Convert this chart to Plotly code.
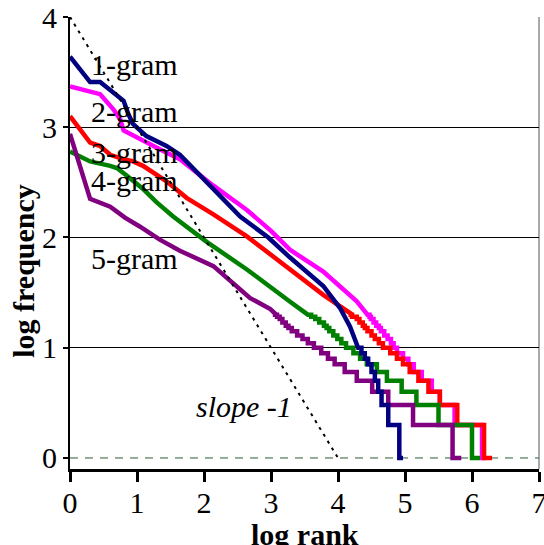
import plotly.graph_objects as go

# ---------------- data ----------------
UPPER_LEVELS = [1.30, 1.28, 1.26, 1.23, 1.20, 1.18, 1.15, 1.11, 1.08, 1.04]
LOWER_LEVELS = [1.00, 0.95, 0.90, 0.85, 0.78, 0.70, 0.60, 0.48, 0.30, 0.00]

# 1-gram
g1_head_x = [0, 0.30, 0.45, 0.67, 0.80, 0.87, 0.94, 1.14, 1.44, 1.64, 1.94, 2.24, 2.54, 2.96, 3.28, 3.78, 4.03, 4.18, 4.30]
g1_head_y = [3.64, 3.41, 3.41, 3.30, 3.24, 3.12, 3.03, 2.92, 2.83, 2.75, 2.56, 2.38, 2.19, 2.00, 1.82, 1.56, 1.36, 1.19, 1.00]
g1_upper_x = []
g1_lower_x = [4.35, 4.40, 4.45, 4.50, 4.55, 4.60, 4.65, 4.75, 4.915, 4.97]

# 2-gram
g2_head_x = [0, 0.45, 0.65, 0.75, 0.80, 1.04, 1.34, 1.64, 2.14, 2.64, 3.00, 3.28, 3.78, 4.28, 4.44]
g2_head_y = [3.37, 3.30, 3.16, 3.07, 2.97, 2.89, 2.80, 2.71, 2.47, 2.25, 2.06, 1.89, 1.69, 1.42, 1.31]
g2_upper_x = [4.47, 4.49, 4.53, 4.57, 4.61, 4.64, 4.69, 4.74, 4.79, 4.83]
g2_lower_x = [4.88, 4.97, 5.05, 5.13, 5.25, 5.40, 5.52, 5.74, 6.15, 6.20]

# 3-gram
g3_head_x = [0, 0.30, 0.45, 0.60, 0.75, 0.94, 1.09, 1.44, 1.74, 2.14, 2.64, 3.28, 3.78, 4.19]
g3_head_y = [3.10, 2.86, 2.83, 2.75, 2.72, 2.69, 2.65, 2.51, 2.36, 2.21, 2.01, 1.71, 1.48, 1.31]
g3_upper_x = [4.21, 4.28, 4.32, 4.37, 4.40, 4.44, 4.50, 4.55, 4.61, 4.67]
g3_lower_x = [4.78, 4.88, 4.97, 5.07, 5.20, 5.35, 5.52, 5.78, 6.18, 6.30]

# 4-gram
g4_head_x = [0, 0.30, 0.60, 0.70, 0.85, 1.09, 1.29, 1.54, 2.04, 2.64, 3.28, 3.55]
g4_head_y = [2.78, 2.69, 2.65, 2.63, 2.56, 2.44, 2.32, 2.19, 1.96, 1.71, 1.42, 1.31]
g4_upper_x = [3.60, 3.66, 3.72, 3.79, 3.83, 3.87, 3.93, 3.99, 4.05, 4.12]
g4_lower_x = [4.23, 4.33, 4.43, 4.58, 4.73, 4.95, 5.17, 5.50, 6.00, 6.12]

# 5-gram
g5_head_x = [0, 0.30, 0.60, 0.82, 1.04, 1.34, 1.64, 2.14, 2.69, 2.99, 3.06]
g5_head_y = [2.94, 2.35, 2.28, 2.18, 2.10, 1.98, 1.88, 1.74, 1.45, 1.35, 1.31]
g5_upper_x = [3.09, 3.13, 3.17, 3.22, 3.26, 3.31, 3.39, 3.47, 3.55, 3.64]
g5_lower_x = [3.75, 3.85, 3.95, 4.10, 4.28, 4.51, 4.75, 5.12, 5.71, 5.84]

slope_x = [0, 4]
slope_y = [4, 0]

x_ticks = [0, 1, 2, 3, 4, 5, 6, 7]
y_ticks = [0, 1, 2, 3, 4]

series_names = ["1-gram", "2-gram", "3-gram", "4-gram", "5-gram"]
label_x = [0.96, 0.96, 0.96, 0.96, 0.96]
label_y = [3.57, 3.14, 2.77, 2.52, 1.81]

FONT = "Liberation Serif"


def build(head_x, head_y, upper_x, lower_x):
    xs, ys = list(head_x), list(head_y)
    cur = xs[-1]
    levels = UPPER_LEVELS[:len(upper_x)] + LOWER_LEVELS
    for lvl, end in zip(levels, list(upper_x) + list(lower_x)):
        xs += [cur, end]
        ys += [lvl, lvl]
        cur = end
    return xs, ys


series = {
    "1-gram": (build(g1_head_x, g1_head_y, g1_upper_x, g1_lower_x), "#000080"),
    "2-gram": (build(g2_head_x, g2_head_y, g2_upper_x, g2_lower_x), "#FF00FF"),
    "3-gram": (build(g3_head_x, g3_head_y, g3_upper_x, g3_lower_x), "#FF0000"),
    "4-gram": (build(g4_head_x, g4_head_y, g4_upper_x, g4_lower_x), "#008000"),
    "5-gram": (build(g5_head_x, g5_head_y, g5_upper_x, g5_lower_x), "#800080"),
}

fig = go.Figure()

for name in ["2-gram", "3-gram", "4-gram", "5-gram", "1-gram"]:
    (xs, ys), col = series[name]
    fig.add_trace(go.Scatter(x=xs, y=ys, mode="lines", name=name,
                             line=dict(color=col, width=4.5), showlegend=False,
                             hoverinfo="skip"))

fig.add_trace(go.Scatter(x=slope_x, y=slope_y, mode="lines", showlegend=False,
                         line=dict(color="black", width=2, dash="3px,5px"),
                         hoverinfo="skip"))

LBL = 30
annotations = []
for name, lx, ly in zip(series_names, label_x, label_y):
    annotations.append(dict(x=lx, y=ly, xref="x", yref="y", text=name, showarrow=False,
                            font=dict(family=FONT, size=LBL, color="black"),
                            xanchor="center", yanchor="middle"))
annotations.append(dict(x=2.60, y=0.47, xref="x", yref="y", text="<i>slope -1</i>",
                        showarrow=False, font=dict(family=FONT, size=LBL, color="black"),
                        xanchor="center", yanchor="middle"))
annotations.append(dict(x=0.5, y=-0.145, xref="paper", yref="paper", text="<b>log rank</b>",
                        showarrow=False, font=dict(family=FONT, size=LBL, color="black"),
                        xanchor="center", yanchor="middle"))
annotations.append(dict(x=-0.098, y=0.4387, xref="paper", yref="paper",
                        text="<b>log frequency</b>", textangle=-90,
                        showarrow=False, font=dict(family=FONT, size=LBL, color="black"),
                        xanchor="center", yanchor="middle"))

shapes = [
    dict(type="line", xref="paper", yref="y", x0=0, x1=1, y0=0, y1=0,
         line=dict(color="#2A5E34", width=1, dash="8px,7px"), layer="below"),
    dict(type="line", xref="paper", yref="paper", x0=1, x1=1, y0=0, y1=1,
         line=dict(color="#555555", width=1), layer="below"),
]

fig.update_layout(
    template="none",
    width=544, height=545,
    margin=dict(l=70, r=5, t=17, b=76, pad=0, autoexpand=False),
    paper_bgcolor="white", plot_bgcolor="white",
    font=dict(family=FONT, size=LBL, color="black"),
    annotations=annotations, shapes=shapes,
    xaxis=dict(range=[0, 7], tickvals=x_ticks, ticktext=[str(v) for v in x_ticks],
               automargin=False, ticklabeloverflow="allow", ticklabelstandoff=-5,
               showgrid=False, zeroline=False, showline=True, linecolor="black",
               linewidth=3, ticks="outside", ticklen=10, tickwidth=2.5, tickcolor="black",
               tickfont=dict(family=FONT, size=LBL, color="black")),
    yaxis=dict(range=[-0.1, 4], tickvals=y_ticks, ticktext=[str(v) for v in y_ticks],
               automargin=False, ticklabeloverflow="allow",
               showgrid=True, gridcolor="black", gridwidth=1,
               zeroline=True, zerolinecolor="rgba(0,0,0,0)", zerolinewidth=1,
               showline=True, linecolor="black", linewidth=2,
               ticks="outside", ticklen=5, tickwidth=2, tickcolor="black",
               tickfont=dict(family=FONT, size=LBL, color="black")),
)

fig.write_html("out.html", config={"displayModeBar": False},
               post_script="document.body.style.margin='0px';document.body.style.overflow='hidden';")
